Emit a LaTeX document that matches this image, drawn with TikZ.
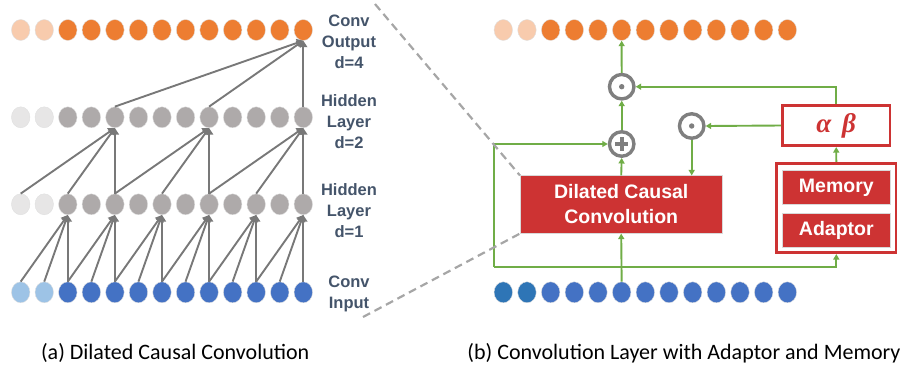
\documentclass[tikz,border=0pt]{standalone}
\usepackage{fontspec}
\setmainfont{Liberation Sans}
\newfontfamily\capfont{Carlito}
\newfontfamily\grkfont{Liberation Serif}
\usetikzlibrary{arrows.meta,shapes.geometric}
\definecolor{orng}{HTML}{ED7D31}
\definecolor{lorng}{HTML}{F8CBAD}
\definecolor{hgray}{HTML}{AEAAAA}
\definecolor{lhgray}{HTML}{E7E6E6}
\definecolor{blu}{HTML}{4472C4}
\definecolor{lblu}{HTML}{9DC3E6}
\definecolor{dblu}{HTML}{2E75B6}
\definecolor{arrgray}{HTML}{787878}
\definecolor{labcol}{HTML}{44546A}
\definecolor{redbox}{HTML}{CD3333}
\definecolor{grn}{HTML}{70AD47}
\definecolor{opgray}{HTML}{7F7F7F}
\definecolor{dashgray}{HTML}{A6A6A6}
\begin{document}
\begin{tikzpicture}[x=1pt,y=-1pt,
  dot/.style={ellipse,minimum width=18.5pt,minimum height=21pt,inner sep=0pt,draw=black!12,line width=0.4pt},
  grarr/.style={draw=arrgray,line width=1.9pt,-{Triangle[length=6.5pt,width=8pt]}},
  gnarr/.style={draw=grn,line width=1.9pt,-{Triangle[length=5.5pt,width=6pt]}},
  gnline/.style={draw=grn,line width=1.9pt},
  lab/.style={text=labcol,font=\fontsize{16.5}{21}\selectfont\bfseries,align=center},
  opc/.style={circle,draw=opgray,line width=3.4pt,minimum size=24.5pt,inner sep=0pt,fill=white},
  redfill/.style={fill=redbox,draw=white!85!black,line width=0.5pt,text=white,font=\fontsize{19.5}{25}\selectfont\bfseries,align=center,inner sep=0pt},
  redframe/.style={draw=redbox,line width=2.7pt,fill=white,inner sep=0pt},
  dashln/.style={draw=dashgray,line width=2.2pt,dash pattern=on 8pt off 5pt},
  capt/.style={font=\capfont\fontsize{22}{26}\selectfont,text=black}
]
\useasboundingbox (0,0) rectangle (912,368);

% ---------- left panel ----------
\foreach \i in {0,1}{
  \pgfmathsetmacro\x{20.7+23.55*\i}
  \node[dot,fill=lblu] (a\i) at (\x,292.3) {};
  \node[dot,fill=lhgray] (b\i) at (\x,204.3) {};
  \node[dot,fill=lhgray] (c\i) at (\x,117.3) {};
  \node[dot,fill=lorng] (d\i) at (\x,30) {};
}
\foreach \i in {2,...,12}{
  \pgfmathsetmacro\x{20.7+23.55*\i}
  \node[dot,fill=blu] (a\i) at (\x,292.3) {};
  \node[dot,fill=hgray] (b\i) at (\x,204.3) {};
  \node[dot,fill=hgray] (c\i) at (\x,117.3) {};
  \node[dot,fill=orng] (d\i) at (\x,30) {};
}
\foreach \t in {2,4,...,12}{
  \foreach \d in {0,1,2}{
    \pgfmathtruncatemacro\s{\t-\d}
    \draw[grarr] (a\s.north) -- (b\t.south);
  }
}
\foreach \t in {4,8,12}{
  \foreach \d in {0,2,4}{
    \pgfmathtruncatemacro\s{\t-\d}
    \draw[grarr] (b\s.north) -- (c\t.south);
  }
}
\foreach \s in {4,8,12}{
  \draw[grarr] (c\s.north) -- (d12.south);
}

\node[lab] (l1) at (349,41.7) {Conv\\Output\\d=4};
\node[lab] (l2) at (349,121.7) {Hidden\\Layer\\d=2};
\node[lab] (l3) at (349,210.7) {Hidden\\Layer\\d=1};
\node[lab] (l4) at (349,293.5) {Conv\\Input};

% ---------- right panel ----------
\foreach \i in {0,1}{
  \pgfmathsetmacro\x{503.3+23.67*\i}
  \node[dot,fill=dblu] (ri\i) at (\x,292.3) {};
  \node[dot,fill=lorng] (ro\i) at (\x,30) {};
}
\foreach \i in {2,...,12}{
  \pgfmathsetmacro\x{503.3+23.67*\i}
  \node[dot,fill=blu] (ri\i) at (\x,292.3) {};
  \node[dot,fill=orng] (ro\i) at (\x,30) {};
}

\node[redfill,minimum width=202pt,minimum height=57.6pt] (dcc) at (621.2,204.5) {Dilated Causal\\Convolution};

\node[redframe,minimum width=119.3pt,minimum height=89.4pt] (mab) at (836.3,208) {};
\node[redfill,minimum width=107.3pt,minimum height=33.6pt] (mem) at (836.3,187.5) {Memory};
\node[redfill,minimum width=107.3pt,minimum height=34.4pt] (adp) at (836.3,230.5) {Adaptor};

\node[redframe,minimum width=107.7pt,minimum height=40.4pt,text=redbox,font=\grkfont\fontsize{27}{30}\selectfont\bfseries\itshape] (ab) at (836.2,125.5) {α\hspace{0.4em}β};

\node[opc] (od1) at (621.7,86.7) {};
\fill[opgray] (od1.center) circle (2.7pt);
\node[opc] (pl) at (621.7,144) {};
\fill[opgray] (621.7-6.6,144-1.8) rectangle (621.7+6.6,144+1.8);
\fill[opgray] (621.7-1.8,144-6.6) rectangle (621.7+1.8,144+6.6);
\node[opc] (od2) at (691.7,126) {};
\fill[opgray] (od2.center) circle (2.7pt);

\coordinate (jn) at (621.7,266.7);
\coordinate (bl) at (494,266.7);

\draw[gnarr] (ri5.north) -- (dcc.south);
\draw[gnline] (bl) -- (jn);
\draw[gnarr] (bl) -- (bl |- pl) -- (pl.west);
\draw[gnarr] (jn) -| (mab.south);
\draw[gnarr] (dcc.north) -- (pl.south);
\draw[gnarr] (pl.north) -- (od1.south);
\draw[gnarr] (od1.north) -- (ro5.south);
\draw[gnarr] (ab.north) |- (od1.east);
\draw[gnarr] (ab.west) -- (od2.east);
\draw[gnarr] (od2.south) -- (od2 |- dcc.north);
\draw[gnarr] (mab.north) -- (ab.south);

% dashed zoom lines
\coordinate (dt) at (375,4);
\coordinate (db) at (363,317);
\draw[dashln] (dt) -- (dcc.north west);
\draw[dashln] (db) -- (dcc.south west);

% captions
\node[capt] (ca) at (175.2,353) {(a) Dilated Causal Convolution};
\node[capt] (cb) at (684,353) {(b) Convolution Layer with Adaptor and Memory};
\end{tikzpicture}
\end{document}
